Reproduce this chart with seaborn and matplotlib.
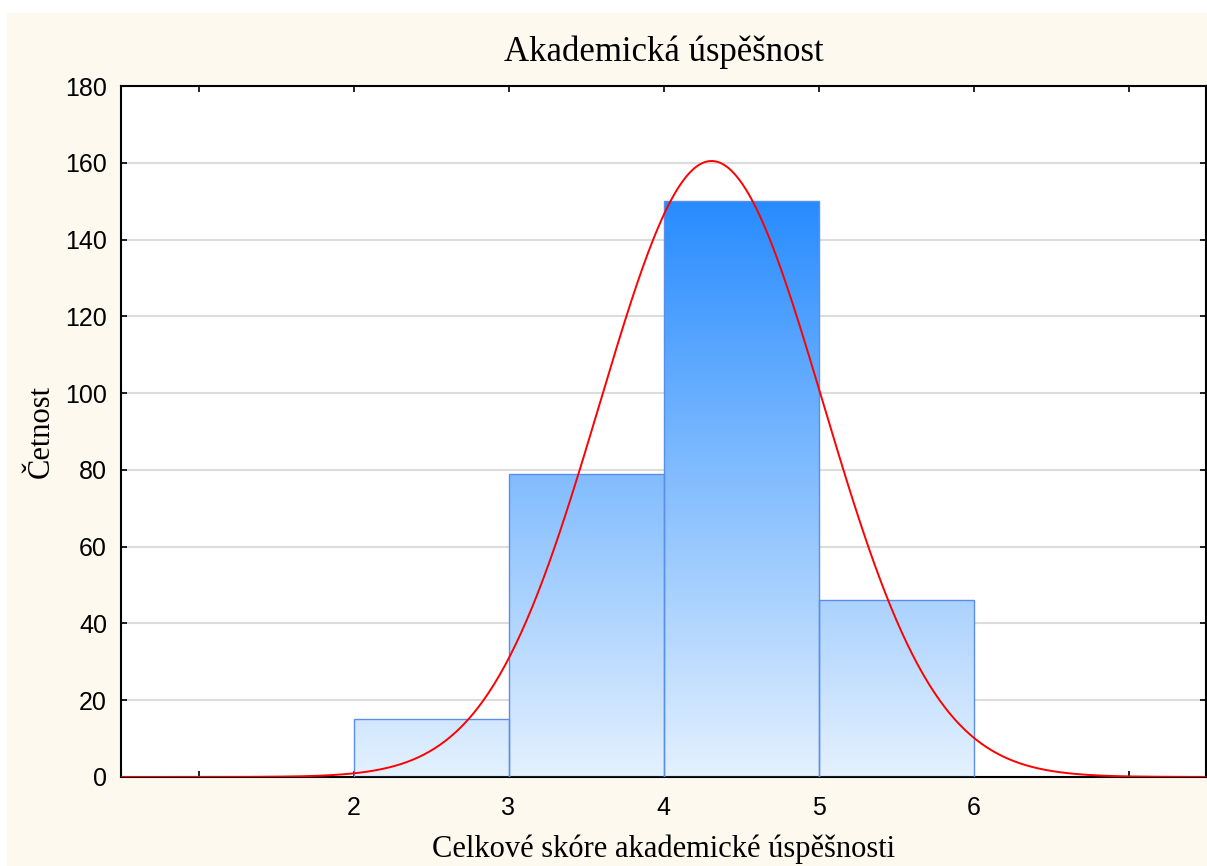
import numpy as np
import pandas as pd
import matplotlib
matplotlib.use("Agg")
import matplotlib.pyplot as plt
from matplotlib.patches import Rectangle
from matplotlib.colors import LinearSegmentedColormap
import seaborn as sns

# ---- data ----
bin_edges = [2, 3, 4, 5, 6]
counts = [15, 79, 150, 46]
fit_mean = 4.31
fit_sd = 0.721
x_ticks = [1, 2, 3, 4, 5, 6, 7]
x_tick_labels = ["", "2", "3", "4", "5", "6", ""]
y_ticks = [0, 20, 40, 60, 80, 100, 120, 140, 160, 180]
title = "Akademická úspěšnost"
xlabel = "Celkové skóre akademické úspěšnosti"
ylabel = "Četnost"

sns.set_theme(style="white")
plt.rcParams["font.family"] = ["Liberation Sans", "DejaVu Sans"]

fig = plt.figure(figsize=(12.07, 8.66), dpi=100, facecolor="white")
fig.patches.append(Rectangle((7 / 1207, 0), 1, 1 - 13 / 866, transform=fig.transFigure,
                             facecolor="#fef9ee", edgecolor="none", zorder=-10))
ax = fig.add_axes([121 / 1207, (866 - 777) / 866, (1206 - 121) / 1207, (777 - 86) / 866])
ax.set_facecolor("white")

centers = [(a + b) / 2 for a, b in zip(bin_edges[:-1], bin_edges[1:])]
df = pd.DataFrame({"x": centers, "w": counts})
sns.histplot(data=df, x="x", weights="w", bins=bin_edges, ax=ax, stat="count",
             facecolor="none", edgecolor="#5a8ee8", linewidth=1.0, zorder=3)

ax.set_xlim(0.5, 7.5)
ax.set_ylim(0, 180)

# gradient fill clipped to each bar
cmap = LinearSegmentedColormap.from_list("g", ["#e4f1fe", "#288cff"])
grad = np.linspace(0, 1, 256).reshape(-1, 1)
top = max(counts)
for p in list(ax.patches):
    im = ax.imshow(grad, aspect="auto", cmap=cmap, origin="lower",
                   extent=(0.5, 7.5, 0, top), zorder=2, interpolation="bilinear")
    im.set_clip_path(p)
ax.set_xlim(0.5, 7.5)
ax.set_ylim(0, 180)

# fitted normal curve
n_total = sum(counts)
bw = bin_edges[1] - bin_edges[0]
xs = np.linspace(0.5, 7.5, 600)
ys = n_total * bw / (fit_sd * np.sqrt(2 * np.pi)) * np.exp(-0.5 * ((xs - fit_mean) / fit_sd) ** 2)
sns.lineplot(x=xs, y=ys, ax=ax, color="#ff0000", linewidth=1.4, zorder=4)

# grid
ax.set_yticks(y_ticks)
ax.yaxis.grid(True, color="#dcdcdc", linewidth=1.5, zorder=0)
ax.xaxis.grid(False)
ax.set_axisbelow(True)
ax.set_xticks(x_ticks)
ax.set_xticklabels(x_tick_labels)

for s in ax.spines.values():
    s.set_visible(True)
    s.set_color("black")
    s.set_linewidth(1.5)

ax.tick_params(axis="both", which="both", direction="in", length=4, width=1.2,
               color="black", top=True, right=True, bottom=True, left=True,
               labelsize=18, labelcolor="black", pad=10)
ax.tick_params(axis="x", pad=14)

ax.set_title(title, fontsize=25, family=["Liberation Serif", "DejaVu Serif"], pad=18, color="black")
ax.set_xlabel(xlabel, fontsize=22, family=["Liberation Serif", "DejaVu Serif"], labelpad=10, color="black")
ax.set_ylabel(ylabel, fontsize=22, family=["Liberation Serif", "DejaVu Serif"], labelpad=7, color="black")

fig.savefig("out.png", dpi=100, facecolor="white")
